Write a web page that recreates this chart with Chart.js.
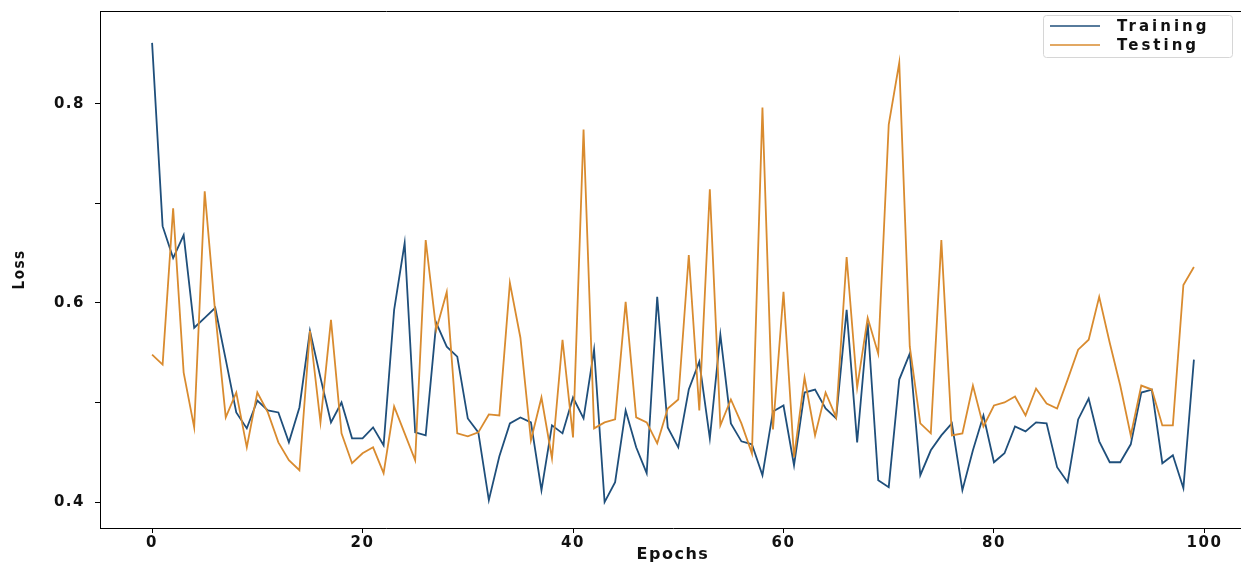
<!DOCTYPE html>
<html>
<head>
<meta charset="utf-8">
<script src="https://cdn.jsdelivr.net/npm/chart.js@4.4.0/dist/chart.umd.min.js"></script>
<style>
  html, body { margin: 0; padding: 0; background: #fff; overflow: hidden; }
  #wrap { width: 1280px; height: 566px; }
</style>
</head>
<body>
<div id="wrap"><canvas id="loss" width="1280" height="566"></canvas></div>
<script>
const epochs = Array.from({ length: 100 }, (_, i) => i);

const trainingLoss = [
  0.861, 0.677, 0.645, 0.668, 0.575, 0.585, 0.595, 0.543, 0.490, 0.474,
  0.502, 0.492, 0.490, 0.460, 0.495, 0.572, 0.525, 0.480, 0.500, 0.464,
  0.464, 0.475, 0.457, 0.593, 0.660, 0.470, 0.467, 0.580, 0.556, 0.546,
  0.484, 0.470, 0.402, 0.446, 0.479, 0.485, 0.480, 0.412, 0.477, 0.469,
  0.505, 0.484, 0.553, 0.400, 0.420, 0.492, 0.455, 0.429, 0.606, 0.475,
  0.455, 0.513, 0.541, 0.464, 0.568, 0.479, 0.461, 0.458, 0.427, 0.491,
  0.497, 0.437, 0.510, 0.513, 0.494, 0.484, 0.593, 0.460, 0.580, 0.422,
  0.415, 0.523, 0.549, 0.427, 0.452, 0.467, 0.479, 0.412, 0.452, 0.487,
  0.440, 0.449, 0.476, 0.471, 0.480, 0.479, 0.435, 0.420, 0.483, 0.504,
  0.461, 0.440, 0.440, 0.458, 0.510, 0.513, 0.439, 0.447, 0.414, 0.543
];

const testingLoss = [
  0.548, 0.538, 0.695, 0.530, 0.475, 0.712, 0.590, 0.485, 0.510, 0.455,
  0.510, 0.490, 0.460, 0.442, 0.432, 0.572, 0.480, 0.583, 0.469, 0.439,
  0.449, 0.455, 0.429, 0.496, 0.469, 0.442, 0.663, 0.573, 0.611, 0.469,
  0.466, 0.470, 0.488, 0.487, 0.620, 0.565, 0.462, 0.505, 0.444, 0.563,
  0.465, 0.774, 0.474, 0.480, 0.483, 0.601, 0.485, 0.480, 0.459, 0.494,
  0.503, 0.648, 0.492, 0.714, 0.477, 0.503, 0.479, 0.449, 0.796, 0.473,
  0.611, 0.445, 0.525, 0.467, 0.510, 0.485, 0.646, 0.515, 0.585, 0.549,
  0.779, 0.841, 0.556, 0.479, 0.469, 0.663, 0.467, 0.469, 0.517, 0.476,
  0.497, 0.500, 0.506, 0.487, 0.514, 0.499, 0.494, 0.523, 0.553, 0.563,
  0.606, 0.560, 0.517, 0.467, 0.517, 0.513, 0.477, 0.477, 0.618, 0.636
];

const xTicks = [0, 20, 40, 60, 80, 100];
const yTicks = [0.4, 0.5, 0.6, 0.7, 0.8];
const yLabelled = [0.4, 0.6, 0.8];

const seriesNames = ['Training', 'Testing'];
const seriesColors = ['#1f4f7b', '#d98b2f'];

const tickFont = { family: 'DejaVu Sans', size: 15, weight: 'bold' };
const toPoints = vals => vals.map((v, i) => ({ x: epochs[i], y: v }));

// top spine (left and bottom come from the axis borders)
const frame = {
  id: 'frame',
  beforeLayout(chart) { chart.ctx.letterSpacing = '1.5px'; },
  beforeDraw(chart) { chart.ctx.letterSpacing = '1.5px'; },
  afterDraw(chart) {
    const { ctx, chartArea: a } = chart;
    const y = Math.round(a.top) + 0.5;
    ctx.save();
    ctx.strokeStyle = '#000';
    ctx.lineWidth = 1;
    ctx.beginPath();
    ctx.moveTo(a.left, y);
    ctx.lineTo(a.right, y);
    ctx.stroke();
    ctx.restore();
  }
};

// legend drawn inside the plot, upper right
const innerLegend = {
  id: 'innerLegend',
  afterDraw(chart) {
    const ctx = chart.ctx;
    const box = { x: 1043, y: 15, w: 189, h: 42 };
    ctx.save();
    ctx.fillStyle = 'rgba(255,255,255,0.85)';
    ctx.strokeStyle = '#d6d6d6';
    ctx.lineWidth = 1;
    ctx.beginPath();
    ctx.roundRect(box.x + 0.5, box.y + 0.5, box.w, box.h, 3);
    ctx.fill();
    ctx.stroke();
    ctx.letterSpacing = '3px';
    ctx.font = 'bold 15px "DejaVu Sans"';
    ctx.textBaseline = 'middle';
    ctx.textAlign = 'left';
    chart.data.datasets.forEach((ds, i) => {
      const y = box.y + 11 + i * 19;
      ctx.strokeStyle = ds.borderColor;
      ctx.lineWidth = 1.6;
      ctx.beginPath();
      ctx.moveTo(1050, y);
      ctx.lineTo(1100, y);
      ctx.stroke();
      ctx.fillStyle = '#111';
      ctx.fillText(ds.label, 1117, y + 1);
    });
    ctx.restore();
  }
};

new Chart(document.getElementById('loss'), {
  type: 'line',
  data: {
    datasets: [
      {
        label: seriesNames[0],
        data: toPoints(trainingLoss),
        borderColor: seriesColors[0],
        borderWidth: 1.8,
        pointRadius: 0,
        tension: 0,
        order: 1
      },
      {
        label: seriesNames[1],
        data: toPoints(testingLoss),
        borderColor: seriesColors[1],
        borderWidth: 1.8,
        pointRadius: 0,
        tension: 0,
        order: 0
      }
    ]
  },
  options: {
    responsive: false,
    animation: false,
    devicePixelRatio: 1,
    layout: { padding: { top: 11, right: 34, left: 0, bottom: 0 } },
    plugins: {
      legend: { display: false },
      tooltip: { enabled: false }
    },
    scales: {
      x: {
        type: 'linear',
        min: -4.95,
        max: 103.95,
        afterBuildTicks: s => { s.ticks = xTicks.map(v => ({ value: v })); },
        afterFit: s => { s.height = 38; s.paddingLeft = 0; s.paddingRight = 0; },
        grid: { display: true, drawOnChartArea: false, drawTicks: true, tickLength: 5, color: '#000' },
        border: { display: true, color: '#000', width: 1 },
        ticks: { color: '#111', font: tickFont, padding: 1, maxRotation: 0 },
        title: {
          display: true,
          text: 'Epochs',
          color: '#111',
          font: { family: 'DejaVu Sans', size: 16, weight: 'bold' },
          padding: { top: 0, bottom: 2 }
        }
      },
      y: {
        min: 0.374,
        max: 0.893,
        afterBuildTicks: s => { s.ticks = yTicks.map(v => ({ value: v })); },
        afterFit: s => { s.width = 100; s.paddingTop = 0; s.paddingBottom = 0; },
        grid: { display: true, drawOnChartArea: false, drawTicks: true, tickLength: 5, color: '#000' },
        border: { display: true, color: '#000', width: 1 },
        ticks: {
          color: '#111',
          font: tickFont,
          padding: 10,
          callback: v => (yLabelled.some(t => Math.abs(t - v) < 1e-6) ? v.toFixed(1) : '')
        },
        title: {
          display: true,
          text: 'Loss',
          color: '#111',
          font: { family: 'DejaVu Sans Condensed', size: 15, weight: 'bold' },
          padding: { top: 11, bottom: 0 }
        }
      }
    }
  },
  plugins: [frame, innerLegend]
});
</script>
</body>
</html>
